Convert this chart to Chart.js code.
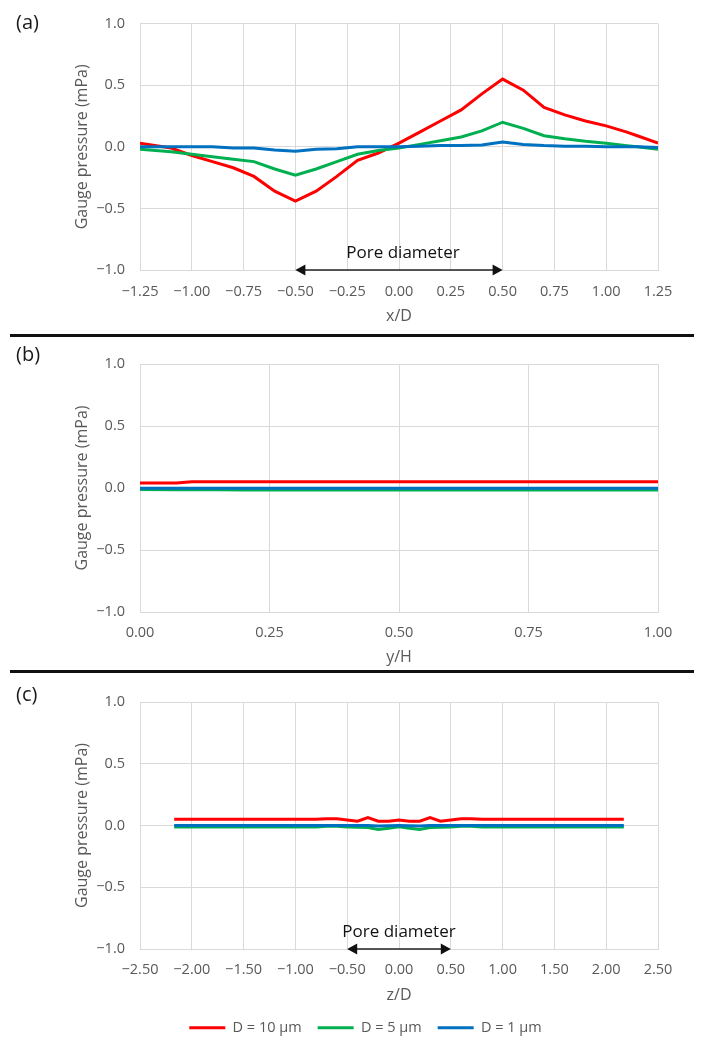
<!DOCTYPE html>
<html lang="en">
<head>
  <meta charset="UTF-8">
  <title>Gauge pressure along pore</title>
  <script src="https://cdn.jsdelivr.net/npm/chart.js"></script>
  <style>
    html, body {
      margin: 0;
      padding: 0;
      background: #fff;
      overflow: hidden;
    }
    #wrap {
      position: relative;
      width: 709px;
      height: 1043px;
    }
    canvas {
      position: absolute;
      left: 0;
    }
    .tag {
      position: absolute;
      left: 16px;
      font-family: "Open Sans", sans-serif;
      font-size: 20px;
      line-height: 22px;
      color: #1a1a1a;
    }
    .rule {
      position: absolute;
      left: 10px;
      width: 684px;
      height: 3px;
      background: #111;
    }
  </style>
</head>
<body>
  <div id="wrap">
    <canvas id="chartA" width="709" height="335" style="top:0px"></canvas>
    <canvas id="chartB" width="709" height="336" style="top:335px"></canvas>
    <canvas id="chartC" width="709" height="372" style="top:671px"></canvas>
    <div class="tag" style="top:11px">(a)</div>
    <div class="tag" style="top:343px">(b)</div>
    <div class="tag" style="top:683px">(c)</div>
    <div class="rule" style="top:334px"></div>
    <div class="rule" style="top:670px"></div>
  </div>

  <script>
    const seriesNames = ["D = 10 μm", "D = 5 μm", "D = 1 μm"];
    const seriesColors = ["#ff0000", "#00b050", "#0070c0"];

    // (a) along x/D
    const xA = [-1.25, -1.1, -1.0, -0.9, -0.8, -0.7, -0.6, -0.5, -0.4, -0.3, -0.2, -0.1, 0, 0.1, 0.2, 0.3, 0.4, 0.5, 0.6, 0.7, 0.8, 0.9, 1.0, 1.1, 1.15, 1.25];
    const redA = [0.03, -0.01, -0.07, -0.12, -0.17, -0.24, -0.36, -0.44, -0.36, -0.24, -0.11, -0.05, 0.03, 0.12, 0.21, 0.30, 0.43, 0.55, 0.46, 0.32, 0.26, 0.21, 0.17, 0.12, 0.09, 0.03];
    const greenA = [-0.02, -0.04, -0.06, -0.08, -0.10, -0.12, -0.18, -0.23, -0.18, -0.12, -0.06, -0.03, -0.01, 0.02, 0.05, 0.08, 0.13, 0.20, 0.15, 0.09, 0.065, 0.045, 0.03, 0.01, 0.0, -0.02];
    const blueA = [0, 0, 0, 0, -0.01, -0.01, -0.025, -0.035, -0.02, -0.015, 0, 0, 0, 0.005, 0.01, 0.01, 0.015, 0.04, 0.02, 0.01, 0.005, 0.005, 0, 0, 0, -0.005];

    // (b) along y/H
    const xB = [0, 0.07, 0.1, 0.2, 0.3, 0.4, 0.5, 0.6, 0.7, 0.8, 0.9, 1.0];
    const redB = [0.04, 0.04, 0.05, 0.05, 0.05, 0.05, 0.05, 0.05, 0.05, 0.05, 0.05, 0.05];
    const greenB = [-0.012, -0.014, -0.012, -0.017, -0.017, -0.017, -0.017, -0.017, -0.017, -0.017, -0.017, -0.017];
    const blueB = [-0.003, -0.003, -0.003, -0.003, -0.003, -0.003, -0.003, -0.003, -0.003, -0.003, -0.003, -0.003];

    // (c) along z/D
    const xC = [-2.17, -2.0, -1.5, -1.0, -0.8, -0.7, -0.6, -0.5, -0.4, -0.3, -0.2, -0.1, 0, 0.1, 0.2, 0.3, 0.4, 0.5, 0.6, 0.7, 0.8, 1.0, 1.5, 2.0, 2.17];
    const redC = [0.05, 0.05, 0.05, 0.05, 0.05, 0.055, 0.055, 0.045, 0.035, 0.065, 0.035, 0.035, 0.045, 0.035, 0.035, 0.065, 0.035, 0.045, 0.055, 0.055, 0.05, 0.05, 0.05, 0.05, 0.05];
    const greenC = [-0.012, -0.012, -0.012, -0.012, -0.012, -0.007, -0.007, -0.012, -0.014, -0.017, -0.032, -0.022, -0.01, -0.022, -0.032, -0.017, -0.014, -0.012, -0.007, -0.007, -0.012, -0.012, -0.012, -0.012, -0.012];
    const blueC = [0, 0, 0, 0, 0, 0, 0, 0, 0, 0, -0.005, -0.003, 0, -0.003, -0.005, 0, 0, 0, 0, 0, 0, 0, 0, 0, 0];

    const yTicks = [-1.0, -0.5, 0.0, 0.5, 1.0];
    const poreRange = [-0.5, 0.5];

    const gray = "#595959";
    const gridColor = "#d9d9d9";
    const fontFam = "'Open Sans', sans-serif";

    function fmt(v, d) {
      return v.toFixed(d).replace("-", "\u2212");
    }

    function toPts(xs, ys) {
      return xs.map((x, i) => ({ x: x, y: ys[i] }));
    }

    // double arrow + "Pore diameter" label on the bottom axis
    const poreArrow = {
      id: "poreArrow",
      afterDatasetsDraw(chart, args, opts) {
        if (!opts.show) return;
        const ctx = chart.ctx;
        const xs = chart.scales.x, ys = chart.scales.y;
        const x1 = xs.getPixelForValue(poreRange[0]);
        const x2 = xs.getPixelForValue(poreRange[1]);
        const yy = ys.getPixelForValue(yTicks[0]);
        ctx.save();
        ctx.strokeStyle = "#222";
        ctx.fillStyle = "#111";
        ctx.lineWidth = 1.5;
        ctx.beginPath();
        ctx.moveTo(x1 + 8, yy);
        ctx.lineTo(x2 - 8, yy);
        ctx.stroke();
        ctx.beginPath();
        ctx.moveTo(x1, yy);
        ctx.lineTo(x1 + 10, yy - 5.5);
        ctx.lineTo(x1 + 10, yy + 5.5);
        ctx.closePath();
        ctx.fill();
        ctx.beginPath();
        ctx.moveTo(x2, yy);
        ctx.lineTo(x2 - 10, yy - 5.5);
        ctx.lineTo(x2 - 10, yy + 5.5);
        ctx.closePath();
        ctx.fill();
        ctx.font = "17px " + fontFam;
        ctx.textAlign = "center";
        ctx.textBaseline = "middle";
        ctx.fillText("Pore diameter", (x1 + x2) / 2 + opts.dx, yy - opts.dy);
        ctx.restore();
      }
    };

    function makeChart(id, cfg) {
      // later series drawn on top, like the original
      const datasets = [cfg.red, cfg.green, cfg.blue].map((ys, i) => ({
        label: seriesNames[i],
        data: toPts(cfg.xs, ys),
        borderColor: seriesColors[i],
        backgroundColor: seriesColors[i],
        borderWidth: 3,
        pointRadius: 0,
        tension: 0,
        order: 2 - i
      }));

      return new Chart(document.getElementById(id), {
        type: "line",
        data: { datasets: datasets },
        plugins: [poreArrow],
        options: {
          responsive: false,
          animation: false,
          layout: {
            padding: { left: 73, right: 51, top: cfg.top, bottom: cfg.bottom }
          },
          plugins: {
            tooltip: { enabled: false },
            poreArrow: { show: cfg.arrow, dx: cfg.arrowDx || 0, dy: 17 },
            legend: {
              display: cfg.legend,
              position: "bottom",
              labels: {
                boxWidth: 36,
                boxHeight: 3,
                padding: 16,
                color: gray,
                font: { family: fontFam, size: 14.5 },
                sort: (a, b) => a.datasetIndex - b.datasetIndex,
                generateLabels(chart) {
                  return Chart.defaults.plugins.legend.labels.generateLabels(chart)
                    .map(item => Object.assign(item, { lineWidth: 0 }));
                }
              }
            }
          },
          scales: {
            x: {
              type: "linear",
              min: cfg.xmin,
              max: cfg.xmax,
              afterFit(scale) { scale.height = cfg.xh; },
              afterBuildTicks(scale) {
                scale.ticks = cfg.xticks.map(v => ({ value: v }));
              },
              grid: { color: gridColor, drawTicks: false },
              border: { color: gridColor },
              ticks: {
                padding: cfg.tickPad,
                color: gray,
                maxRotation: 0,
                autoSkip: false,
                font: { family: fontFam, size: 14.5 },
                callback: v => fmt(v, 2)
              },
              title: {
                display: true,
                text: cfg.xtitle,
                color: gray,
                font: { family: fontFam, size: 16 },
                padding: { top: 0, bottom: cfg.titlePad }
              }
            },
            y: {
              type: "linear",
              min: -1,
              max: 1,
              afterFit(scale) { scale.width = 140 - 73; },
              afterBuildTicks(scale) {
                scale.ticks = yTicks.map(v => ({ value: v }));
              },
              grid: { color: gridColor, drawTicks: false },
              border: { color: gridColor },
              ticks: {
                padding: 15,
                color: gray,
                font: { family: fontFam, size: 14.5 },
                callback: v => fmt(v, 1)
              },
              title: {
                display: true,
                text: "Gauge pressure (mPa)",
                color: gray,
                font: { family: fontFam, size: 16 },
                padding: { top: 0, bottom: 0 }
              }
            }
          }
        }
      });
    }

    makeChart("chartA", {
      xs: xA, red: redA, green: greenA, blue: blueA,
      xmin: -1.25, xmax: 1.25,
      xticks: [-1.25, -1.0, -0.75, -0.5, -0.25, 0, 0.25, 0.5, 0.75, 1.0, 1.25],
      xtitle: "x/D",
      top: 23, bottom: 5, xh: 60, tickPad: 13, titlePad: 4,
      arrow: true, arrowDx: 4, legend: false
    });

    makeChart("chartB", {
      xs: xB, red: redB, green: greenB, blue: blueB,
      xmin: 0, xmax: 1,
      xticks: [0, 0.25, 0.5, 0.75, 1.0],
      xtitle: "y/H",
      top: 29, bottom: 0, xh: 59, tickPad: 12.5, titlePad: 4,
      arrow: false, legend: false
    });

    makeChart("chartC", {
      xs: xC, red: redC, green: greenC, blue: blueC,
      xmin: -2.5, xmax: 2.5,
      xticks: [-2.5, -2.0, -1.5, -1.0, -0.5, 0, 0.5, 1.0, 1.5, 2.0, 2.5],
      xtitle: "z/D",
      top: 31, bottom: -2, xh: 55.5, tickPad: 12.5, titlePad: -1,
      arrow: true, arrowDx: 0, legend: true
    });
  </script>
</body>
</html>
